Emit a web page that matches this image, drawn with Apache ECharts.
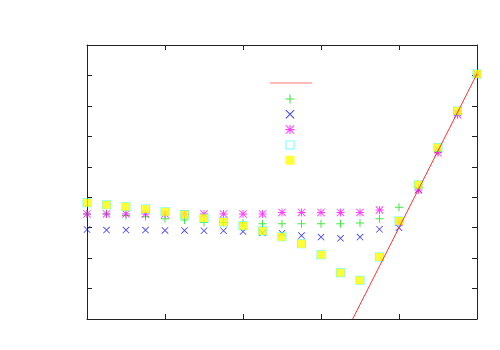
<!DOCTYPE html>
<html>
<head>
<meta charset="utf-8">
<script src="https://cdn.jsdelivr.net/npm/echarts@6/dist/echarts.min.js"></script>
<style>
html, body { margin:0; padding:0; background:#fff; }
#myChart { width:500px; height:350px; }
</style>
</head>
<body>
<div id="myChart"></div>
<script type="text/javascript">
// sample positions along x
var xs = [0,0.25,0.5,0.75,1,1.25,1.5,1.75,2,2.25,2.5,2.75,3,3.25,3.5,3.75,4,4.25,4.5,4.75,5];
// series values
var greenY   = [3.45,3.45,3.40,3.36,3.29,3.25,3.17,3.17,3.15,3.13,3.13,3.13,3.13,3.13,3.15,3.29,3.67,4.30,5.50,6.75,8.05];
var blueY    = [2.94,2.92,2.92,2.92,2.91,2.91,2.90,2.90,2.87,2.83,2.82,2.74,2.69,2.65,2.69,2.95,3.00,4.25,5.55,6.77,8.05];
var magentaY = [3.45,3.45,3.45,3.45,3.45,3.45,3.45,3.45,3.45,3.45,3.50,3.50,3.50,3.50,3.50,3.58,3.19,4.24,5.46,6.71,8.05];
var cyanY    = [3.82,3.75,3.69,3.61,3.52,3.43,3.31,3.19,3.06,2.89,2.70,2.47,2.11,1.52,1.27,2.04,3.22,4.41,5.63,6.83,8.05];
var yellowY  = [3.82,3.75,3.69,3.61,3.52,3.43,3.31,3.19,3.06,2.89,2.70,2.47,2.11,1.52,1.27,2.04,3.22,4.41,5.63,6.83,8.05];
// fitted line end points
var lineX = [3.406,5];
var lineY = [0,8.05];

function pairs(x, y){
    var out = [];
    for(var i=0;i<x.length;i++) out.push([x[i], y[i]]);
    return out;
}

var plusPath  = 'path://M4.4,0h1.2v10h-1.2zM0,4.4h10v1.2h-10z';
var starPath  = 'path://M4.4,0h1.2v10h-1.2zM0,4.4h10v1.2h-10zM0,0.8L0.8,0L10,9.2L9.2,10ZM9.2,0L10,0.8L0.8,10L0,9.2Z';
var crossPath = 'path://M0,0.8L0.8,0L10,9.2L9.2,10ZM9.2,0L10,0.8L0.8,10L0,9.2Z';
var boxPath   = 'path://M0,0h10v10h-10zM1,1v8h8v-8h-8z';

function makeAxis(pos, max){
    return {
        type:'value', min:0, max:max, interval:1, position:pos,
        axisLine:{show:true, onZero:false, lineStyle:{color:'#222', width:1}},
        axisTick:{show:true, inside:true, length:5, lineStyle:{color:'#222'}},
        axisLabel:{show:false}, splitLine:{show:false}
    };
}

var option = {
    animation:false,
    grid:{left:87, right:23, top:45, bottom:31},
    legend:[
        {
            data:[{name:'line', icon:'rect'}], orient:'vertical', left:270, top:82.5, padding:0,
            itemWidth:42, itemHeight:1, formatter:function(){return '';},
            itemStyle:{color:'#ff7777'}, textStyle:{fontSize:1}
        },
        {
            data:['p1','p2','p3','p4','p5'], orient:'vertical', left:285.5, top:94.5, padding:0,
            itemWidth:9, itemHeight:9, itemGap:6.3, formatter:function(){return '';},
            textStyle:{fontSize:1}
        }
    ],
    xAxis:[ makeAxis('bottom',5), makeAxis('top',5) ],
    yAxis:[ makeAxis('left',9), makeAxis('right',9) ],
    series:[
        {name:'line', type:'line', symbol:'none', data:pairs(lineX, lineY),
         lineStyle:{color:'#ff3333', width:1}, itemStyle:{color:'#ff3333'}, clip:true},
        {name:'p1', type:'scatter', symbol:plusPath, symbolSize:8, data:pairs(xs, greenY),
         itemStyle:{color:'#00dd00', opacity:0.75}},
        {name:'p2', type:'scatter', symbol:crossPath, symbolSize:7, data:pairs(xs, blueY),
         itemStyle:{color:'#0000ff', opacity:0.75}},
        {name:'p3', type:'scatter', symbol:starPath, symbolSize:8, data:pairs(xs, magentaY),
         itemStyle:{color:'#ff00ff', opacity:0.75}},
        {name:'p4', type:'scatter', symbol:boxPath, symbolSize:9, data:pairs(xs, cyanY),
         itemStyle:{color:'#00ffff', opacity:0.6}},
        {name:'p5', type:'scatter', symbol:'rect', symbolSize:8, data:pairs(xs, yellowY),
         itemStyle:{color:'#ffff00'}}
    ]
};
echarts.init(document.getElementById('myChart')).setOption(option);
</script>
</body>
</html>
